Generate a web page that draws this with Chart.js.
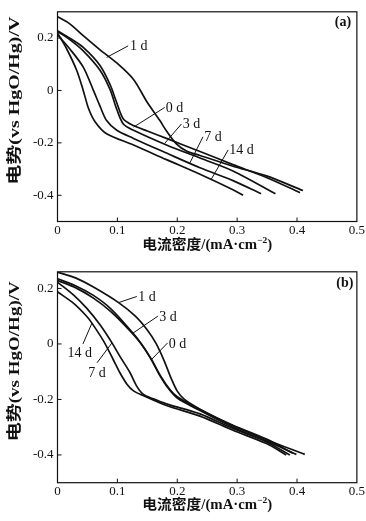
<!DOCTYPE html>
<html><head><meta charset="utf-8">
<script src="https://cdn.jsdelivr.net/npm/chart.js@4/dist/chart.umd.min.js"></script>
<style>
html,body{margin:0;padding:0;background:#fff;width:366px;height:521px;overflow:hidden}
.p{position:absolute;left:0;width:366px}
#wa{top:0;height:260px}
#wb{top:260px;height:261px}
</style></head><body>
<div class="p" id="wa"><canvas id="ca"></canvas></div>
<div class="p" id="wb"><canvas id="cb"></canvas></div>
<script>
// ---------- tick labels ----------
const xTickValues = [0, 0.1, 0.2, 0.3, 0.4, 0.5];
const yTickValues = [-0.4, -0.2, 0, 0.2];
const seriesNames = ['0 d', '1 d', '3 d', '7 d', '14 d'];

// ---------- panel (a) ----------
const a0dX = [0, 0.02, 0.043, 0.071, 0.088, 0.099, 0.11, 0.127, 0.15, 0.182, 0.238, 0.293, 0.349, 0.405];
const a0dY = [0.228, 0.2, 0.164, 0.095, 0.021, -0.047, -0.109, -0.134, -0.155, -0.183, -0.233, -0.283, -0.332, -0.39];
const a1dX = [0, 0.02, 0.043, 0.071, 0.099, 0.127, 0.149, 0.171, 0.182, 0.199, 0.216, 0.238, 0.293, 0.349, 0.41];
const a1dY = [0.281, 0.255, 0.209, 0.155, 0.105, 0.042, -0.042, -0.115, -0.155, -0.205, -0.232, -0.248, -0.289, -0.326, -0.382];
const a3dX = [0, 0.02, 0.043, 0.071, 0.088, 0.099, 0.11, 0.127, 0.182, 0.238, 0.293, 0.364];
const a3dY = [0.225, 0.195, 0.151, 0.077, 0.002, -0.072, -0.128, -0.152, -0.208, -0.258, -0.307, -0.394];
const a7dX = [0, 0.02, 0.043, 0.06, 0.071, 0.082, 0.099, 0.127, 0.182, 0.238, 0.293, 0.34];
const a7dY = [0.213, 0.16, 0.089, 0.0, -0.06, -0.115, -0.152, -0.183, -0.239, -0.295, -0.344, -0.394];
const a14dX = [0, 0.015, 0.032, 0.043, 0.052, 0.063, 0.082, 0.127, 0.182, 0.238, 0.293, 0.31];
const a14dY = [0.219, 0.16, 0.077, 0.0, -0.07, -0.12, -0.165, -0.208, -0.264, -0.32, -0.379, -0.4];

// ---------- panel (b) ----------
const b0dX = [0, 0.03, 0.06, 0.09, 0.12, 0.14, 0.157, 0.172, 0.188, 0.2, 0.238, 0.293, 0.349, 0.393];
const b0dY = [0.229, 0.203, 0.165, 0.115, 0.05, 0.0, -0.056, -0.115, -0.165, -0.19, -0.236, -0.293, -0.343, -0.394];
const b1dX = [0, 0.03, 0.06, 0.102, 0.13, 0.15, 0.165, 0.178, 0.19, 0.2, 0.212, 0.238, 0.293, 0.349, 0.413];
const b1dY = [0.259, 0.238, 0.205, 0.149, 0.1, 0.05, 0.0, -0.06, -0.125, -0.17, -0.2, -0.235, -0.295, -0.345, -0.398];
const b3dX = [0, 0.03, 0.06, 0.09, 0.126, 0.14, 0.155, 0.17, 0.185, 0.2, 0.238, 0.293, 0.349, 0.399];
const b3dY = [0.235, 0.21, 0.175, 0.125, 0.039, 0.0, -0.05, -0.11, -0.16, -0.195, -0.24, -0.3, -0.35, -0.398];
const b7dX = [0, 0.027, 0.049, 0.071, 0.091, 0.104, 0.121, 0.132, 0.143, 0.16, 0.182, 0.238, 0.293, 0.349, 0.388];
const b7dY = [0.223, 0.176, 0.128, 0.069, 0.004, -0.044, -0.103, -0.151, -0.181, -0.198, -0.216, -0.252, -0.305, -0.353, -0.4];
const b14dX = [0, 0.027, 0.049, 0.0575, 0.077, 0.093, 0.104, 0.116, 0.127, 0.143, 0.182, 0.238, 0.293, 0.349, 0.382];
const b14dY = [0.188, 0.146, 0.099, 0.075, 0.01, -0.056, -0.103, -0.145, -0.169, -0.186, -0.222, -0.26, -0.311, -0.359, -0.4];

// ---------- annotation labels (data units) ----------
const annA = [
  {t:'1 d', x0:0.082, y0:0.126, x1:0.118, y1:0.170, tx:0.121, ty:0.167, al:'left'},
  {t:'0 d', x0:0.127, y0:-0.14, x1:0.179, y1:-0.065, tx:0.181, ty:-0.068, al:'left'},
  {t:'3 d', x0:0.179, y0:-0.202, x1:0.207, y1:-0.128, tx:0.209, ty:-0.131, al:'left'},
  {t:'7 d', x0:0.221, y0:-0.277, x1:0.243, y1:-0.177, tx:0.245, ty:-0.180, al:'left'},
  {t:'14 d', x0:0.257, y0:-0.338, x1:0.285, y1:-0.227, tx:0.287, ty:-0.230, al:'left'}
];
const annB = [
  {t:'1 d', x0:0.102, y0:0.149, x1:0.1325, y1:0.171, tx:0.135, ty:0.169, al:'left'},
  {t:'3 d', x0:0.126, y0:0.039, x1:0.1675, y1:0.100, tx:0.170, ty:0.097, al:'left'},
  {t:'0 d', x0:0.157, y0:-0.056, x1:0.184, y1:0.004, tx:0.186, ty:0.0, al:'left'},
  {t:'14 d', x0:0.0575, y0:0.075, x1:0.0425, y1:0.0, tx:0.037, ty:-0.034, al:'center'},
  {t:'7 d', x0:0.091, y0:0.004, x1:0.066, y1:-0.068, tx:0.066, ty:-0.107, al:'center'}
];

const SERIF = '"Liberation Serif", "Noto Sans CJK SC", serif';
const INK = '#111';

function pts(xs, ys){ return xs.map((x, i) => ({x: x, y: ys[i]})); }
function fmt(v){ return v === 0 ? '0' : v.toFixed(1); }

const deco = {
  id: 'deco',
  afterDraw(chart, args, o){
    const ctx = chart.ctx, ca = chart.chartArea, xs = chart.scales.x, ys = chart.scales.y;
    ctx.save();
    ctx.strokeStyle = INK; ctx.fillStyle = INK;
    ctx.lineWidth = 1.2;
    ctx.strokeRect(ca.left, ca.top, ca.right - ca.left, ca.bottom - ca.top);
    ctx.lineWidth = 1;
    ctx.beginPath();
    xs.ticks.forEach(t => {
      if (t.value > 0.001 && t.value < 0.499) {
        const px = xs.getPixelForValue(t.value);
        ctx.moveTo(px, ca.bottom); ctx.lineTo(px, ca.bottom - 4);
      }
    });
    ys.ticks.forEach(t => {
      const py = ys.getPixelForValue(t.value);
      ctx.moveTo(ca.left, py); ctx.lineTo(ca.left + 4, py);
    });
    ctx.stroke();

    // curve labels with leader lines
    ctx.font = '14px ' + SERIF;
    ctx.textBaseline = 'middle';
    ctx.lineWidth = 1;
    o.ann.forEach(a => {
      ctx.beginPath();
      ctx.moveTo(xs.getPixelForValue(a.x0), ys.getPixelForValue(a.y0));
      ctx.lineTo(xs.getPixelForValue(a.x1), ys.getPixelForValue(a.y1));
      ctx.stroke();
      ctx.textAlign = a.al;
      ctx.fillText(a.t, xs.getPixelForValue(a.tx), ys.getPixelForValue(a.ty));
    });

    // panel label
    ctx.font = 'bold 14px ' + SERIF;
    ctx.textAlign = 'center';
    ctx.fillText(o.label, ca.right + o.lblDx, ca.top + o.lblDy);

    // x title
    const cx = (ca.left + ca.right) / 2, cy = ca.bottom + o.xTitleDy;
    const p1 = '电流密度/(mA·cm', p2 = '−2', p3 = ')';
    ctx.font = 'bold 14px ' + SERIF;
    const w1 = ctx.measureText(p1).width, w3 = ctx.measureText(p3).width;
    ctx.font = 'bold 9px ' + SERIF;
    const w2 = ctx.measureText(p2).width;
    const total = w1 + w2 + w3;
    const sc = o.xTitleLen / total;
    ctx.save();
    ctx.translate(cx, cy);
    ctx.scale(sc, 1);
    let sx = -total / 2;
    ctx.textAlign = 'left';
    ctx.font = 'bold 14px ' + SERIF;
    ctx.fillText(p1, sx, 0); sx += w1;
    ctx.font = 'bold 9px ' + SERIF;
    ctx.fillText(p2, sx, -5); sx += w2;
    ctx.font = 'bold 14px ' + SERIF;
    ctx.fillText(p3, sx, 0);
    ctx.restore();

    // y title
    const yt = '电势(vs HgO/Hg)/V';
    ctx.font = 'bold 15px ' + SERIF;
    const wy = ctx.measureText(yt).width;
    ctx.save();
    ctx.translate(o.yTitleX, (ca.top + ca.bottom) / 2 + o.yTitleDy);
    ctx.rotate(-Math.PI / 2);
    ctx.scale(o.yTitleLen / wy, 1);
    ctx.textAlign = 'center';
    ctx.fillText(yt, 0, 0);
    ctx.restore();

    ctx.restore();
  }
};

function makeChart(id, series, yMax, cfg){
  const datasets = series.map((s, i) => ({
    label: seriesNames[i],
    data: pts(s[0], s[1]),
    borderColor: INK,
    borderWidth: 1.7,
    pointRadius: 0,
    tension: 0.3,
    fill: false
  }));
  return new Chart(document.getElementById(id), {
    type: 'line',
    data: { datasets: datasets },
    options: {
      responsive: true,
      maintainAspectRatio: false,
      animation: false,
      devicePixelRatio: 1,
      layout: { padding: { top: cfg.padTop, right: 8.5, left: 0, bottom: 0 } },
      plugins: {
        legend: { display: false },
        tooltip: { enabled: false },
        deco: cfg
      },
      scales: {
        x: {
          type: 'linear', min: 0, max: 0.5,
          border: { display: false },
          grid: { display: false, drawTicks: false },
          afterBuildTicks: s => { s.ticks = xTickValues.map(v => ({value: v})); },
          afterFit: s => { s.height = cfg.xAxisH; },
          ticks: { color: INK, padding: 1, font: { family: SERIF, size: 13 }, callback: v => fmt(v), maxRotation: 0 }
        },
        y: {
          type: 'linear', min: -0.5, max: yMax,
          border: { display: false },
          grid: { display: false, drawTicks: false },
          afterBuildTicks: s => { s.ticks = yTickValues.map(v => ({value: v})); },
          afterFit: s => { s.width = 57.5; },
          ticks: { color: INK, padding: 4, font: { family: SERIF, size: 13 }, callback: v => fmt(v) }
        }
      }
    },
    plugins: [deco]
  });
}

makeChart('ca',
  [[a0dX, a0dY], [a1dX, a1dY], [a3dX, a3dY], [a7dX, a7dY], [a14dX, a14dY]],
  0.3,
  { padTop: 6, xAxisH: 38.5, ann: annA, label: '(a)', lblDx: -14, lblDy: 10.5,
    xTitleDy: 24, xTitleLen: 130, yTitleX: 15, yTitleDy: -16, yTitleLen: 168 });

makeChart('cb',
  [[b0dX, b0dY], [b1dX, b1dY], [b3dX, b3dY], [b7dX, b7dY], [b14dX, b14dY]],
  0.26,
  { padTop: 7.7, xAxisH: 38.3, ann: annB, label: '(b)', lblDx: -12, lblDy: 11.5,
    xTitleDy: 23, xTitleLen: 130, yTitleX: 15, yTitleDy: -16, yTitleLen: 160 });
</script>
</body></html>
